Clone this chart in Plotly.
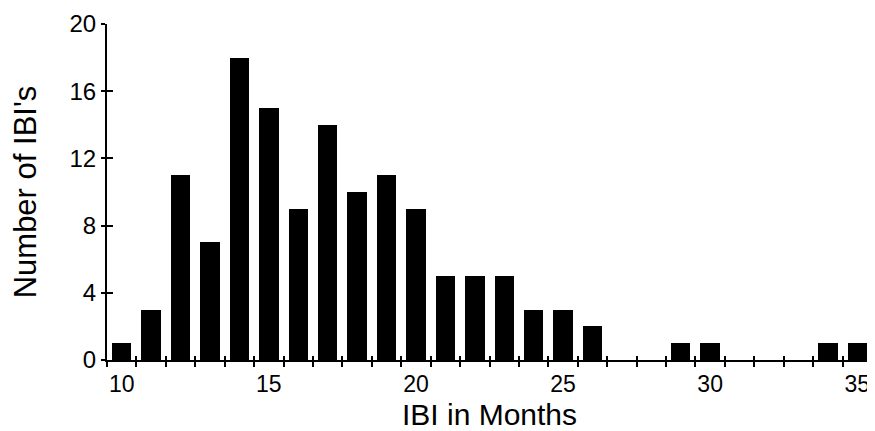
import plotly.graph_objects as go

months = [10, 11, 12, 13, 14, 15, 16, 17, 18, 19, 20, 21, 22, 23, 24, 25, 26,
          27, 28, 29, 30, 31, 32, 33, 34, 35]
counts = [1, 3, 11, 7, 18, 15, 9, 14, 10, 11, 9, 5, 5, 5, 3, 3, 2,
          0, 0, 1, 1, 0, 0, 0, 1, 1]
x_label_vals = [10, 15, 20, 25, 30, 35]
bin_edges = [m - 0.5 for m in months] + [months[-1] + 0.5]
y_tick_vals = [0, 4, 8, 12, 16, 20]

FONT = "Liberation Sans, Arial, Helvetica, sans-serif"
xr = [bin_edges[0], bin_edges[-1]]
yr = [0, 20]

fig = go.Figure()
fig.add_trace(go.Bar(x=months, y=counts, width=0.66,
                     marker=dict(color="black", line=dict(width=0)),
                     showlegend=False, hoverinfo="skip"))
# dummy trace for the overlay axes that carry the inward half of the crossing ticks
fig.add_trace(go.Scatter(x=[], y=[], xaxis="x2", yaxis="y2", showlegend=False))

# the page body has an 8px default margin, so the figure is sized to fit the window
fig.update_layout(
    width=867, height=423,
    margin=dict(l=99, r=3, t=16, b=71),
    paper_bgcolor="white", plot_bgcolor="white",
    font=dict(family=FONT, color="black"),
    bargap=0,
    xaxis=dict(
        range=xr, tickmode="array", tickvals=x_label_vals,
        ticktext=[str(v) for v in x_label_vals],
        ticks="", showgrid=False, zeroline=False, automargin=False,
        showline=True, linecolor="black", linewidth=2,
        tickfont=dict(size=23, family=FONT, color="black"),
        ticklabelstandoff=2,
        minor=dict(tickmode="array", tickvals=bin_edges, ticks="outside",
                   ticklen=5, tickwidth=2, tickcolor="black", showgrid=False),
        title=dict(text="IBI in Months", font=dict(size=30, family=FONT, color="black"),
                   standoff=13),
        anchor="y",
    ),
    yaxis=dict(
        range=yr, tickmode="array", tickvals=y_tick_vals,
        ticks="outside", ticklen=4, tickwidth=2, tickcolor="black",
        showgrid=False, zeroline=False, automargin=False,
        showline=True, linecolor="black", linewidth=2,
        tickfont=dict(size=24, family=FONT, color="black"),
        ticklabelstandoff=0,
        title=dict(text="Number of IBI's", font=dict(size=31, family=FONT, color="black"),
                   standoff=25),
        anchor="x",
    ),
    xaxis2=dict(
        range=xr, overlaying="x", anchor="y2", tickmode="array", tickvals=bin_edges,
        ticks="inside", ticklen=4, tickwidth=2, tickcolor="black", automargin=False,
        showticklabels=False, showgrid=False, zeroline=False, showline=False,
    ),
    yaxis2=dict(
        range=yr, overlaying="y", anchor="x2", tickmode="array", tickvals=y_tick_vals,
        ticks="inside", ticklen=6, tickwidth=2, tickcolor="black", automargin=False,
        showticklabels=False, showgrid=False, zeroline=False, showline=False,
    ),
)

fig.write_html("out.html")
